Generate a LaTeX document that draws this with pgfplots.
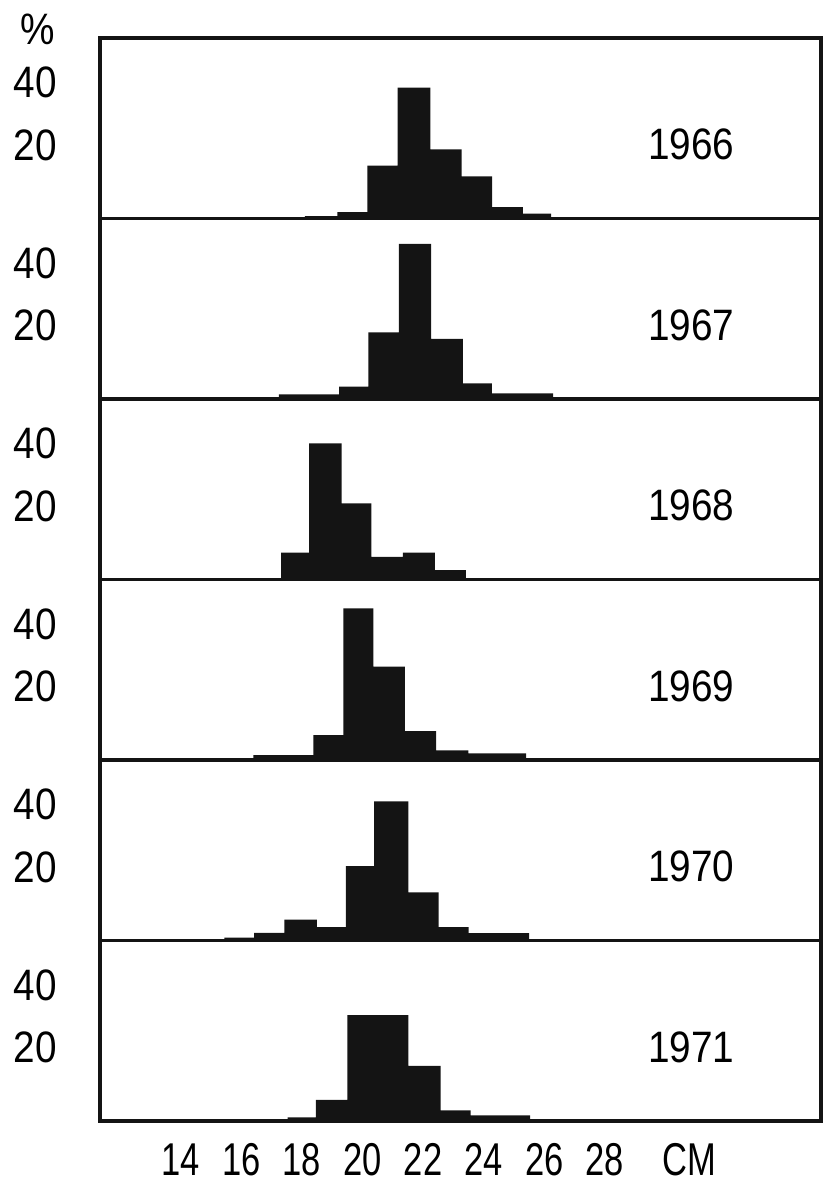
\documentclass[border=0pt]{standalone}
\usepackage{fontspec}
\setmainfont{Liberation Sans}[FakeStretch=0.72]
\newfontfamily\widefont{Liberation Sans}[FakeStretch=0.88]
\newfontfamily\xfont{Liberation Sans}[FakeStretch=0.75]
\usepackage{pgfplots}
\pgfplotsset{compat=1.18}
\newcommand{\lblfont}{\xfont\fontsize{23}{25}\selectfont}
\newcommand{\wlblfont}{\widefont\fontsize{22}{25}\selectfont}
\pgfplotsset{
  panel/.style={
    scale only axis,
    width=360.5pt, height=90.25pt,
    xmin=11.337, xmax=35.13,
    ymin=0, ymax=54.37,
    axis line style={line width=1.6pt, black!92},
    axis on top,
    xtick=\empty,
    ytick={20,40},
    yticklabels={\raisebox{4pt}{20},40},
    major tick length=0pt,
    tick style={draw=none},
    yticklabel style={anchor=east, inner sep=0pt, xshift=-21.5pt, yshift=1.5pt, font=\wlblfont},
    /pgf/number format/assume math mode=true,
    clip=false,
    anchor=south west,
  },
  hist/.style={const plot, fill=black!92, draw=none},
}
\begin{document}
\begin{tikzpicture}
\useasboundingbox (0,0) rectangle (414pt,593.5pt);

% 1966
\begin{axis}[panel, at={(50pt,484.25pt)}]
\addplot[hist] coordinates {(18.10,0.7) (19.17,1.9) (20.16,15.9) (21.16,39.4) (22.24,20.8) (23.27,12.7) (24.28,3.4) (25.29,1.5) (26.22,1.5)} \closedcycle;
\node[font=\wlblfont] at (rel axis cs:0.820,0.41) {1966};
\node[font=\widefont\fontsize{22}{25}\selectfont] at (rel axis cs:-0.087,1.05) {\%};
\end{axis}

% 1967
\begin{axis}[panel, at={(50pt,394pt)}]
\addplot[hist] coordinates {(17.24,1.4) (18.23,1.4) (19.23,3.7) (20.19,20.1) (21.20,46.7) (22.26,18.1) (23.31,4.7) (24.27,1.7) (25.28,1.7) (26.29,1.7)} \closedcycle;
\node[font=\wlblfont] at (rel axis cs:0.820,0.41) {1967};
\end{axis}

% 1968
\begin{axis}[panel, at={(50pt,303.75pt)}]
\addplot[hist] coordinates {(17.31,8.1) (18.24,41.0) (19.31,22.9) (20.29,6.8) (21.33,8.1) (22.39,2.8) (23.41,2.8)} \closedcycle;
\node[font=\wlblfont] at (rel axis cs:0.820,0.41) {1968};
\end{axis}

% 1969
\begin{axis}[panel, at={(50pt,213.5pt)}]
\addplot[hist] coordinates {(16.40,1.5) (17.39,1.5) (18.38,7.5) (19.37,45.7) (20.36,28.1) (21.40,8.7) (22.43,2.9) (23.49,2.0) (24.45,2.0) (25.40,2.0)} \closedcycle;
\node[font=\wlblfont] at (rel axis cs:0.820,0.41) {1969};
\end{axis}

% 1970
\begin{axis}[panel, at={(50pt,123.25pt)}]
\addplot[hist] coordinates {(15.44,0.9) (16.42,2.3) (17.42,6.3) (18.49,4.0) (19.45,22.4) (20.38,41.9) (21.51,14.5) (22.51,4.0) (23.50,2.2) (24.50,2.2) (25.50,2.2)} \closedcycle;
\node[font=\wlblfont] at (rel axis cs:0.820,0.41) {1970};
\end{axis}

% 1971
\begin{axis}[panel, at={(50pt,33pt)},
  xtick={14,16,18,20,22,24,26,28,30.8},
  xticklabels={14,16,18,20,22,24,26,28,CM},
  xticklabel style={anchor=north, inner sep=0pt, yshift=-11pt, font=\lblfont}]
\addplot[hist] coordinates {(17.53,1.1) (18.46,6.4) (19.50,31.9) (20.50,31.9) (21.51,16.6) (22.58,3.2) (23.57,1.7) (24.55,1.7) (25.53,1.7)} \closedcycle;
\node[font=\wlblfont] at (rel axis cs:0.820,0.41) {1971};
\end{axis}
\end{tikzpicture}
\end{document}
